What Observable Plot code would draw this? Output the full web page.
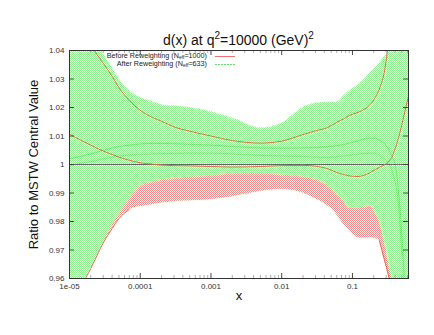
<!DOCTYPE html>
<html><head><meta charset="utf-8">
<script src="https://cdn.jsdelivr.net/npm/d3@7"></script>
<script src="https://cdn.jsdelivr.net/npm/@observablehq/plot@0.6"></script>
<style>body{margin:0;background:#fff}#chart{width:434px;height:335px}</style>
</head><body><div id="chart"></div>
<script>
// ---- data ----
const xGrid = [1e-5, 1.5e-5, 2e-5, 3e-5, 4e-5, 5e-5, 7e-5, 1e-4, 1.5e-4, 2e-4, 3e-4, 5e-4, 1e-3, 2e-3, 5e-3, 1e-2, 2e-2, 3e-2, 4.5e-2, 6e-2, 7.5e-2, 9e-2, 0.12, 0.15, 0.18, 0.21, 0.24, 0.28, 0.33, 0.36, 0.4, 0.45, 0.5, 0.55, 0.62];
// Before reweighting band (green)
const greenHi = [1.06, 1.055, 1.048, 1.039, 1.034, 1.030, 1.026, 1.0235, 1.022, 1.021, 1.0205, 1.020, 1.0185, 1.0163, 1.0128, 1.0145, 1.020, 1.0215, 1.0218, 1.0218, 1.024, 1.0258, 1.028, 1.030, 1.0323, 1.034, 1.0355, 1.0377, 1.0398, 1.042, 1.047, 1.05, 1.053, 1.056, 1.06];
const greenLow = [0.945, 0.9575, 0.9635, 0.9725, 0.9775, 0.981, 0.9842, 0.9853, 0.986, 0.9865, 0.987, 0.9873, 0.9877, 0.9887, 0.9906, 0.9913, 0.990, 0.988, 0.9855, 0.9825, 0.979, 0.9768, 0.9743, 0.9742, 0.9744, 0.974, 0.9733, 0.967, 0.960, 0.955, 0.945, 0.93, 0.92, 0.91, 0.90];
// After reweighting band (red)
const redHi = [null, null, null, 0.9725, 0.9785, 0.9825, 0.9878, 0.9925, 0.9938, 0.9945, 0.995, 0.9955, 0.996, 0.9967, 0.9968, 0.9962, 0.9956, 0.9947, 0.9925, 0.9895, 0.9872, 0.9848, 0.9845, 0.985, 0.9855, 0.983, 0.980, 0.9733, 0.9645, 0.960, 0.952, null, null, null, null];
const redLow = [null, null, null, 0.9725, 0.9775, 0.981, 0.9842, 0.9853, 0.986, 0.9865, 0.987, 0.9873, 0.9877, 0.9887, 0.9906, 0.9913, 0.990, 0.988, 0.9855, 0.9825, 0.979, 0.9768, 0.9743, 0.9742, 0.9744, 0.974, 0.9733, 0.967, 0.960, 0.955, 0.945, null, null, null, null];
// red curves
const lineA = [null, 1.048, 1.042, 1.0355, 1.031, 1.027, 1.0225, 1.019, 1.0165, 1.0152, 1.0132, 1.0117, 1.010, 1.0084, 1.0075, 1.0082, 1.0105, 1.0118, 1.013, 1.0148, 1.016, 1.0172, 1.0183, 1.0195, 1.0212, 1.0235, 1.0265, 1.032, 1.044, 1.05, null, null, null, null, null];
const lineB = [1.0107, 1.0083, 1.0068, 1.0047, 1.0035, 1.0026, 1.0015, 1.0006, 1.0001, 0.9998, 0.9996, 0.9995, 0.9993, 0.9991, 0.9993, 0.9996, 0.9997, 0.9994, 0.9985, 0.9972, 0.9965, 0.996, 0.9958, 0.9963, 0.9972, 0.9982, 0.999, 0.9998, 1.0012, 1.0025, 1.0055, 1.0095, 1.014, 1.0185, 1.024];
const lineC = [0.945, 0.9575, 0.9635, 0.9725, 0.9775, 0.981, 0.9842, null, null, null, null, null, null, null, null, null, null, null, null, null, null, null, null, null, null, null, 0.9733, 0.967, 0.960, 0.955, null, null, null, null, null];
// faint green curves
const greenLine1 = [1.002, 1.003, 1.0037, 1.005, 1.0058, 1.0063, 1.0068, 1.0072, 1.0074, 1.0074, 1.0073, 1.0071, 1.0068, 1.0063, 1.0058, 1.0057, 1.0058, 1.006, 1.0062, 1.0066, 1.007, 1.0075, 1.0083, 1.009, 1.0092, 1.0092, 1.0085, 1.0075, 1.005, 1.003, 1.0, 0.99, 0.975, 0.955, null];
const greenLine2 = [0.9995, 1.0005, 1.001, 1.002, 1.0026, 1.003, 1.0033, 1.0035, 1.0037, 1.0038, 1.0039, 1.004, 1.004, 1.0037, 1.0032, 1.003, 1.0028, 1.0026, 1.0025, 1.0027, 1.003, 1.0033, 1.0036, 1.0039, 1.004, 1.004, 1.0032, 1.002, 1.0, 0.998, 0.994, 0.985, 0.968, null, null];

const yTicks = [0.96, 0.97, 0.98, 0.99, 1, 1.01, 1.02, 1.03, 1.04];
const yTickLabels = ["0.96", "0.97", "0.98", "0.99", "1", "1.01", "1.02", "1.03", "1.04"];
const xTicks = [1e-5, 1e-4, 1e-3, 1e-2, 1e-1];
const xTickLabels = ["1e-05", "0.0001", "0.001", "0.01", "0.1"];
const minorMantissas = [2, 3, 4, 5, 6, 7, 8, 9];
const xMinor = xTicks.flatMap(d => minorMantissas.map(m => m * d)).filter(v => v < 0.62);

const titleText = ["d(x) at q", "2", "=10000 (GeV)", "2"];
const legendBefore = ["Before Reweighting (N", "eff", "=1000)"];
const legendAfter = ["After Reweighting (N", "eff", "=633)"];
const yLabel = "Ratio to MSTW Central Value";
const xLabel = "x";

// ---- build ----
const rows = xGrid.map((x, i) => ({x, gHi: greenHi[i], gLo: greenLow[i], rHi: redHi[i], rLo: redLow[i],
  a: lineA[i], b: lineB[i], c: lineC[i], g1: greenLine1[i], g2: greenLine2[i]}));
const yLab = new Map(yTicks.map((v, i) => [v, yTickLabels[i]]));
const xLab = new Map(xTicks.map((v, i) => [v, xTickLabels[i]]));

const W = 434, H = 335, mL = 69, mR = 26, mT = 50, mB = 57;
const pW = W - mL - mR, pH = H - mT - mB;
const redStroke = "#e8654e";
const font = "'Liberation Sans', Arial, Helvetica, sans-serif";

const chart = Plot.plot({
  width: W, height: H, marginLeft: mL, marginRight: mR, marginTop: mT, marginBottom: mB,
  style: {fontFamily: font, background: "white", color: "#222"},
  x: {type: "log", domain: [1e-5, 0.62]},
  y: {domain: [0.96, 1.04]},
  marks: [
    Plot.areaY(rows, {filter: d => d.gHi != null, x: "x", y1: "gLo", y2: "gHi", fill: "url(#hatchGreen)", curve: "monotone-x", clip: true}),
    Plot.areaY(rows, {filter: d => d.rHi != null, x: "x", y1: "rLo", y2: "rHi", fill: "url(#hatchRed)", curve: "monotone-x", clip: true}),
    Plot.line(rows, {filter: d => d.g1 != null, x: "x", y: "g1", stroke: "#22cc22", strokeWidth: 0.8, strokeOpacity: 0.6, curve: "monotone-x", clip: true}),
    Plot.line(rows, {filter: d => d.g2 != null, x: "x", y: "g2", stroke: "#22cc22", strokeWidth: 0.8, strokeOpacity: 0.5, curve: "monotone-x", clip: true}),
    Plot.ruleY([1], {stroke: "#666", strokeWidth: 1}),
    Plot.line(rows, {filter: d => d.a != null, x: "x", y: "a", stroke: redStroke, strokeWidth: 1, curve: "monotone-x", clip: true}),
    Plot.line(rows, {filter: d => d.b != null, x: "x", y: "b", stroke: redStroke, strokeWidth: 1, curve: "monotone-x", clip: true}),
    Plot.line(rows, {filter: d => d.c != null && d.x < 1e-4, x: "x", y: "c", stroke: redStroke, strokeWidth: 1, curve: "monotone-x", clip: true}),
    Plot.line(rows, {filter: d => d.c != null && d.x > 0.1, x: "x", y: "c", stroke: redStroke, strokeWidth: 1, curve: "monotone-x", clip: true}),
    // inward ticks
    Plot.tickY(yTicks, {insetRight: pW - 5, stroke: "#444"}),
    Plot.tickY(yTicks, {insetLeft: pW - 5, stroke: "#444"}),
    Plot.tickX(xTicks, {insetTop: pH - 5, stroke: "#444"}),
    Plot.tickX(xTicks, {insetBottom: pH - 5, stroke: "#444"}),
    Plot.tickX(xMinor, {insetTop: pH - 3, stroke: "#777", strokeWidth: 0.6}),
    Plot.tickX(xMinor, {insetBottom: pH - 3, stroke: "#777", strokeWidth: 0.6}),
    Plot.frame({stroke: "#333", strokeWidth: 1}),
    Plot.axisY(yTicks, {tickSize: 0, tickPadding: 5, tickFormat: d => yLab.get(d), fontSize: 8, label: null, fill: "#333"}),
    Plot.axisX(xTicks, {tickSize: 0, tickPadding: 5, tickFormat: d => xLab.get(d), fontSize: 8, label: null, fill: "#333"}),
    Plot.text([xLabel], {frameAnchor: "bottom", dy: 21, fontSize: 13, fill: "#111", text: d => d}),
    Plot.text([yLabel], {frameAnchor: "left", textAnchor: "middle", dx: -36, rotate: -90, fontSize: 13, fill: "#111", text: d => d})
  ]
});
document.getElementById("chart").appendChild(chart);

const svg = d3.select(chart);
const defs = svg.insert("defs", ":first-child");
function hatch(id, color, bg) {
  const p = defs.append("pattern").attr("id", id).attr("patternUnits", "userSpaceOnUse")
    .attr("x", 0).attr("y", 0).attr("width", 2).attr("height", 2);
  p.append("rect").attr("x", 0).attr("y", 0).attr("width", 2).attr("height", 2).attr("fill", bg);
  p.append("rect").attr("x", 0).attr("y", 0).attr("width", 1).attr("height", 1).attr("fill", color);
  p.append("rect").attr("x", 1).attr("y", 1).attr("width", 1).attr("height", 1).attr("fill", color);
}
hatch("hatchGreen", "#8cf28c", "#ffffff");
hatch("hatchRed", "#fa8888", "#ffffff");

// title
const t = svg.append("text").attr("x", mL + pW / 2).attr("y", 45).attr("text-anchor", "middle")
  .attr("font-size", 14).attr("fill", "#111").attr("font-family", font);
t.append("tspan").text(titleText[0]);
t.append("tspan").attr("dy", -6).attr("font-size", 10).text(titleText[1]);
t.append("tspan").attr("dy", 6).text(titleText[2]);
t.append("tspan").attr("dy", -6).attr("font-size", 10).text(titleText[3]);

// legend
function legendRow(parts, y) {
  const g = svg.append("text").attr("x", 207).attr("y", y).attr("text-anchor", "end")
    .attr("font-size", 7.2).attr("fill", "#222").attr("font-family", font);
  g.append("tspan").text(parts[0]);
  g.append("tspan").attr("dy", 1.6).attr("font-size", 5).text(parts[1]);
  g.append("tspan").attr("dy", -1.6).text(parts[2]);
}
legendRow(legendBefore, 57.5);
legendRow(legendAfter, 65.5);
svg.append("line").attr("x1", 215).attr("x2", 235).attr("y1", 56.5).attr("y2", 56.5)
  .attr("stroke", "#f07070").attr("stroke-width", 1);
svg.append("line").attr("x1", 215).attr("x2", 235).attr("y1", 64.5).attr("y2", 64.5)
  .attr("stroke", "#66e066").attr("stroke-width", 1).attr("stroke-dasharray", "2,1");
</script>
</body></html>
